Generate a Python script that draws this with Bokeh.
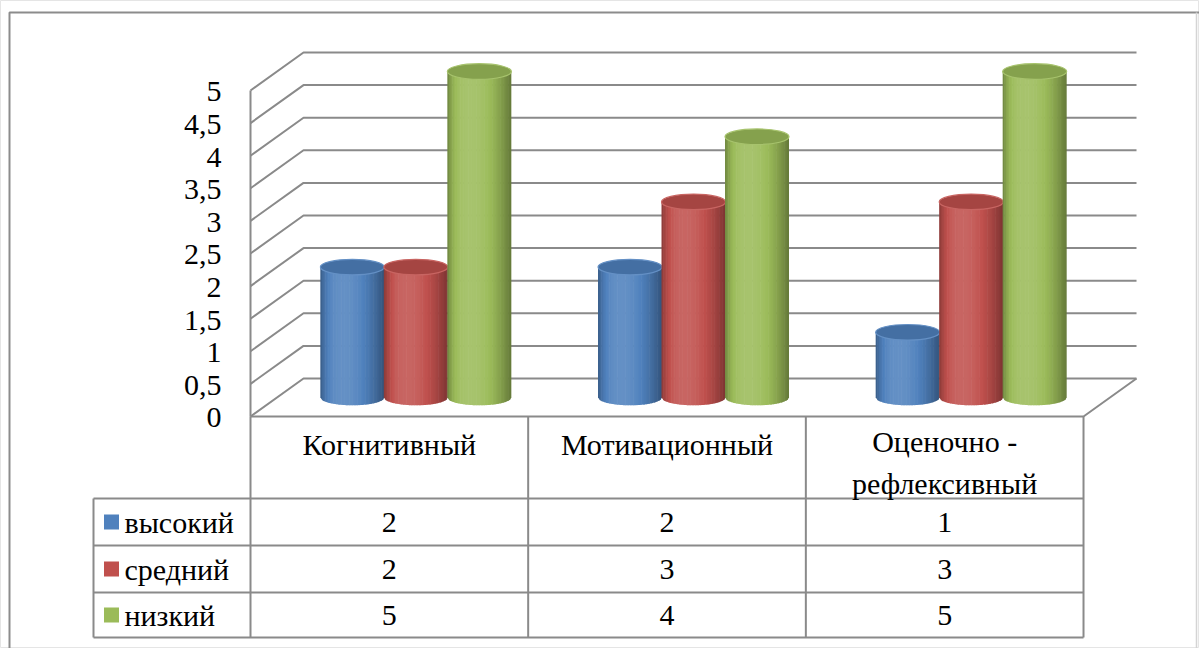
import math
from bokeh.plotting import figure
from bokeh.models import Range1d
from bokeh.core.properties import value
from bokeh.embed import file_html
from bokeh.resources import INLINE

# ---- data ----
categories = ["Когнитивный", "Мотивационный", "Оценочно -\nрефлексивный"]
series = ["высокий", "средний", "низкий"]
vysokiy = [2, 2, 1]
sredniy = [2, 3, 3]
nizkiy = [5, 4, 5]
series_values = [vysokiy, sredniy, nizkiy]
series_colors = ["#4F81BD", "#C0504D", "#9BBB59"]
y_ticks = [0, 0.5, 1, 1.5, 2, 2.5, 3, 3.5, 4, 4.5, 5]
y_tick_labels = ["0", "0,5", "1", "1,5", "2", "2,5", "3", "3,5", "4", "4,5", "5"]

# ---- layout ----
W, H = 1199, 648
ORIGIN_X, ORIGIN_Y = 250, 416      # pixel position of (category 0, value 0) on the front plane
CAT_PX = 277.67                    # pixels per category
VAL_PX = 65.2                      # pixels per value unit
FONT = "Liberation Serif"
FS = "30px"
LINE = "#8a8a8a"


def sx(px):
    return (px - ORIGIN_X) / CAT_PX


def sy(px):
    return (ORIGIN_Y - px) / VAL_PX


n_cat = len(categories)
DEPTH_X = 53 / CAT_PX
DEPTH_Y = 38 / VAL_PX
BAR_STEP = 63.5 / CAT_PX
HALF_W = 32 / CAT_PX
ELL_H = 7.8 / VAL_PX

p = figure(width=W, height=H,
           x_range=Range1d(sx(0), sx(W)), y_range=Range1d(sy(H), sy(0)),
           output_backend="svg", toolbar_location=None, min_border=0,
           x_axis_type=None, y_axis_type=None)

# value labels
p.text(x=[sx(221)] * len(y_ticks), y=[v - 0.02 for v in y_ticks], text=y_tick_labels,
       text_font=value(FONT), text_font_size=FS, text_align="right",
       text_baseline="middle", text_color="#000000")

# outer chart frame
p.line([sx(9), sx(9), sx(W)], [sy(H), sy(12), sy(12)], line_color="#8c8c8c", line_width=2)
p.line([sx(1196), sx(1196)], [sy(12), sy(H)], line_color="#d4d4d4", line_width=1.5)

# side wall + back wall gridlines
top_v = max(y_ticks)
p.multi_line([[0, DEPTH_X, n_cat + DEPTH_X] for _ in y_ticks],
             [[v, v + DEPTH_Y, v + DEPTH_Y] for v in y_ticks],
             line_color=LINE, line_width=2)
# floor front and right edge
p.line([0, n_cat, n_cat + DEPTH_X], [0, 0, DEPTH_Y], line_color=LINE, line_width=2)
# front vertical edge of the wall
p.line([0, 0], [0, top_v], line_color=LINE, line_width=2)


def shade(hex_color, b):
    rgb = [int(hex_color[i:i + 2], 16) for i in (1, 3, 5)]
    out = []
    for c in rgb:
        c = c + (255 - c) * b if b >= 0 else c * (1 + b)
        out.append(max(0, min(255, int(round(c)))))
    return "#%02x%02x%02x" % tuple(out)


def profile(t):
    if t < 0.38:
        g = 1 - 0.85 * ((0.38 - t) / 0.38) ** 3
    else:
        g = 1 - ((t - 0.38) / 0.62) ** 1.8
    return -0.36 + 0.48 * g


N_STRIPS = 40
for ci in range(n_cat):
    for si, vals in enumerate(series_values):
        color = series_colors[si]
        cx = ci + 0.5 + DEPTH_X / 2 + (si - 1) * BAR_STEP
        base = DEPTH_Y / 2
        top = base + vals[ci]
        xs, ys, cols = [], [], []
        for k in range(N_STRIPS):
            xa = cx - HALF_W + 2 * HALF_W * k / N_STRIPS
            xb = cx - HALF_W + 2 * HALF_W * (k + 1) / N_STRIPS
            xb_draw = xb + (0.6 / CAT_PX if k < N_STRIPS - 1 else 0)
            ua = max(-1.0, min(1.0, (xa - cx) / HALF_W))
            ub = max(-1.0, min(1.0, (xb_draw - cx) / HALF_W))
            ba = base - ELL_H * math.sqrt(max(0.0, 1 - ua * ua))
            bb = base - ELL_H * math.sqrt(max(0.0, 1 - ub * ub))
            xs.append([xa, xb_draw, xb_draw, xa])
            ys.append([top, top, bb, ba])
            cols.append(shade(color, profile((k + 0.5) / N_STRIPS)))
        p.patches(xs, ys, fill_color=cols, line_color=None)
        p.ellipse(x=[cx], y=[top], width=[2 * HALF_W], height=[2 * ELL_H],
                  fill_color=shade(color, -0.14), line_color=shade(color, 0.12), line_width=1.2)

# ---- data table ----
TABLE_LEFT = sx(93)
ROW_EDGES = [sy(498), sy(545), sy(592), sy(637)]
TABLE_BOTTOM = ROW_EDGES[-1]
# column separators (including the category axis edge)
p.multi_line([[c, c] for c in range(n_cat + 1)], [[0, TABLE_BOTTOM] for _ in range(n_cat + 1)],
             line_color=LINE, line_width=2)
p.multi_line([[TABLE_LEFT, n_cat] for _ in ROW_EDGES], [[r, r] for r in ROW_EDGES],
             line_color=LINE, line_width=2)
p.line([TABLE_LEFT, TABLE_LEFT], [ROW_EDGES[0], TABLE_BOTTOM], line_color=LINE, line_width=2)

# category headers
hx, hy, ht = [], [], []
for ci, name in enumerate(categories):
    parts = name.split("\n")
    ys_px = [444] if len(parts) == 1 else [441, 483]
    for part, ypx in zip(parts, ys_px):
        hx.append(ci + 0.5)
        hy.append(sy(ypx))
        ht.append(part)
p.text(x=hx, y=hy, text=ht, text_font=value(FONT), text_font_size=FS,
       text_align="center", text_baseline="middle", text_color="#000000")

# rows: legend key, series name, values
row_centers = [(ROW_EDGES[i] + ROW_EDGES[i + 1]) / 2 for i in range(len(series))]
p.rect(x=[sx(111)] * len(series), y=row_centers, width=15, height=15,
       width_units="screen", height_units="screen",
       fill_color=series_colors, line_color=None)
p.text(x=[sx(124)] * len(series), y=row_centers, text=series,
       text_font=value(FONT), text_font_size=FS, text_align="left",
       text_baseline="middle", text_color="#000000")
tx, ty, tt = [], [], []
for si, vals in enumerate(series_values):
    for ci, v in enumerate(vals):
        tx.append(ci + 0.5)
        ty.append(row_centers[si])
        tt.append(str(v))
p.text(x=tx, y=ty, text=tt, text_font=value(FONT), text_font_size=FS,
       text_align="center", text_baseline="middle", text_color="#000000")

open("out.html", "w").write(file_html(p, INLINE))
